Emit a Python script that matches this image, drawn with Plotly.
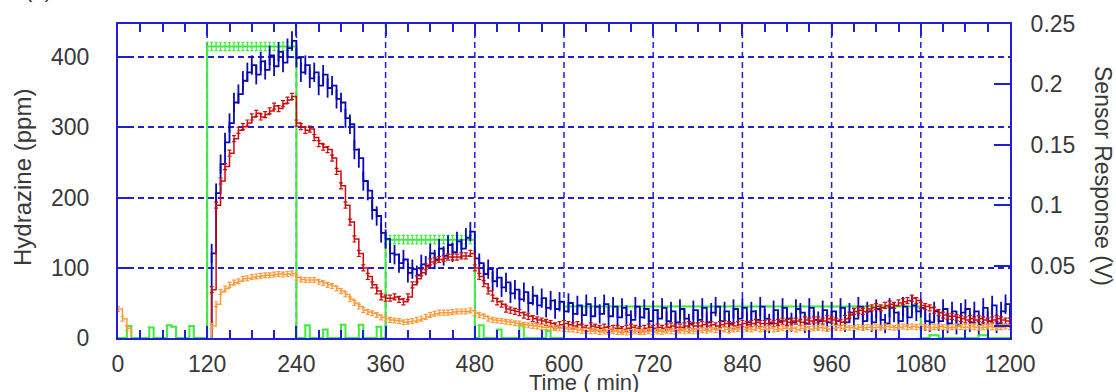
import plotly.graph_objects as go

# ---- data ----
# sampling times (min)
time_min = list(range(0, 1201, 6))

# hydrazine concentration (ppm, left axis)
hydrazine_ppm = (
    [0, 0, 17, 0, 0, 0, 0, 15, 0, 0] +
    [0, 18, 16, 0, 0, 0, 17, 0, 0, 0] +
    [415] * 20 +
    [0, 0, 18, 0, 0, 0, 12, 0, 0, 0] +
    [19, 0, 0, 0, 19, 0, 0, 0, 16, 0] +
    [140] * 20 +
    [0, 18, 0, 0, 0, 12, 0, 0, 0, 0] +
    [18, 0, 0, 0, 0, 0, 10, 0, 0, 0] +
    [45] * 80 +
    [0, 0, 4, 4, 0, 0, 0, 0, 0, 0] +
    [0, 0, 0, 4, 4, 0, 0, 0, 0, 0] +
    [0]
)
hydrazine_err = [0] * 20 + [6] * 20 + [0] * 20 + [6] * 20 + [0] * 121

# sensor responses (V, right axis)
sensor_blue = (
    [None] * 20 +
    [-0.02, 0.06, 0.11, 0.134, 0.152, 0.168, 0.185, 0.192, 0.203, 0.21] +
    [0.216, 0.208, 0.219, 0.212, 0.224, 0.215, 0.227, 0.218, 0.23, 0.236] +
    [0.222, 0.21, 0.216, 0.205, 0.21, 0.199, 0.208, 0.197, 0.199, 0.188] +
    [0.185, 0.172, 0.167, 0.146, 0.139, 0.12, 0.112, 0.096, 0.091, 0.077] +
    [0.072, 0.06, 0.059, 0.052, 0.055, 0.044, 0.047, 0.042, 0.051, 0.05] +
    [0.06, 0.055, 0.064, 0.058, 0.067, 0.061, 0.07, 0.064, 0.073, 0.078] +
    [0.056, 0.052, 0.043, 0.047, 0.037, 0.04, 0.032, 0.036, 0.027, 0.03] +
    [0.022, 0.028, 0.019, 0.025, 0.017, 0.023, 0.015, 0.021, 0.014, 0.02] +
    [0.012, 0.019, 0.01, 0.017, 0.009, 0.018, 0.008, 0.016, 0.01, 0.018] +
    [0.008, 0.016, 0.007, 0.015, 0.009, 0.005, 0.016, 0.007, 0.014, 0.004] +
    [0.013, 0.006, 0.015, 0.004, 0.012, 0.003, 0.014, 0.006, 0.002, 0.013] +
    [0.005, 0.015, 0.003, 0.011, 0.016, 0.004, 0.012, 0.002, 0.014, 0.006] +
    [0.015, 0.003, 0.012, 0.005, 0.016, 0.006, 0.002, 0.013, 0.004, 0.015] +
    [0.006, 0.003, 0.014, 0.011, 0.002, 0.015, 0.005, 0.004, 0.013, 0.003] +
    [0.012, 0.004, 0.015, 0.003, 0.011, 0.006, 0.016, 0.004, 0.012, 0.003] +
    [0.014, 0.005, 0.002, 0.015, 0.011, 0.004, 0.016, 0.007, 0.017, 0.012] +
    [0.015, 0.004, 0.003, 0.012, 0.004, 0.014, 0.002, 0.012, 0.001, 0.011] +
    [0.014, 0.003, 0.012, 0.001, 0.015, 0.004, 0.017, 0.002, 0.012, 0.018] +
    [0.006]
)

sensor_red = (
    [None] * 20 +
    [-0.02, 0.03, 0.1, 0.12, 0.132, 0.143, 0.155, 0.162, 0.165, 0.168] +
    [0.173, 0.176, 0.173, 0.175, 0.178, 0.182, 0.18, 0.184, 0.187, 0.19] +
    [0.168, 0.165, 0.162, 0.163, 0.156, 0.151, 0.148, 0.146, 0.139, 0.128] +
    [0.116, 0.1, 0.086, 0.072, 0.06, 0.048, 0.041, 0.034, 0.029, 0.024] +
    [0.023, 0.023, 0.024, 0.022, 0.02, 0.024, 0.034, 0.039, 0.044, 0.049] +
    [0.053, 0.054, 0.055, 0.056, 0.057, 0.057, 0.057, 0.058, 0.058, 0.06] +
    [0.048, 0.041, 0.035, 0.029, 0.023, 0.02, 0.018, 0.014, 0.013, 0.012] +
    [0.011, 0.009, 0.008, 0.006, 0.005, 0.004, 0.003, 0.002, 0.0, 0.001] +
    [0.002, 0.001, 0.0, 0.001, -0.001, -0.002, 0.0, -0.001, -0.002, -0.001] +
    [-0.003, -0.002, -0.002, -0.003, -0.002, -0.001, -0.002, -0.003, -0.002, -0.001] +
    [-0.002, -0.001, -0.002, -0.001, 0.0, -0.001, -0.001, 0.0, 0.001, 0.0] +
    [0.0, 0.001, 0.0, 0.001, 0.0, 0.001, 0.002, 0.001, 0.0, 0.001] +
    [0.002, 0.001, 0.002, 0.003, 0.002, 0.002, 0.003, 0.002, 0.003, 0.004] +
    [0.003, 0.004, 0.004, 0.003, 0.005, 0.004, 0.005, 0.005, 0.004, 0.006] +
    [0.005, 0.004, 0.003, 0.006, 0.009, 0.012, 0.013, 0.012, 0.014, 0.015] +
    [0.016, 0.015, 0.017, 0.018, 0.017, 0.019, 0.02, 0.021, 0.023, 0.021] +
    [0.017, 0.016, 0.015, 0.013, 0.011, 0.009, 0.008, 0.008, 0.007, 0.006] +
    [0.005, 0.006, 0.005, 0.006, 0.005, 0.004, 0.005, 0.006, 0.005, 0.004] +
    [0.004]
)

sensor_orange = (
    [0.014, 0.006, -0.002, -0.015, -0.015, -0.015, -0.015, -0.015, -0.015, -0.015] +
    [-0.015] * 10 +
    [-0.015, 0.0, 0.018, 0.028, 0.031, 0.034, 0.036, 0.037, 0.039, 0.0395] +
    [0.0405, 0.041, 0.0415, 0.042, 0.042, 0.0425, 0.043, 0.0425, 0.043, 0.0435] +
    [0.04, 0.0385, 0.038, 0.038, 0.038, 0.0365, 0.0355, 0.034, 0.033, 0.031] +
    [0.029, 0.026, 0.022, 0.019, 0.016, 0.013, 0.0115, 0.0105, 0.009, 0.007] +
    [0.006, 0.005, 0.0045, 0.004, 0.003, 0.0035, 0.004, 0.005, 0.006, 0.0075] +
    [0.009, 0.01, 0.011, 0.011, 0.011, 0.0115, 0.012, 0.012, 0.012, 0.0128] +
    [0.0105, 0.009, 0.008, 0.006, 0.005, 0.0045, 0.004, 0.0035, 0.003, 0.0022] +
    [0.002, 0.001, 0.0005, 0.0, -0.0005, -0.001, -0.001, -0.0015, -0.002, -0.002] +
    [-0.0025, -0.003, -0.003, -0.0035, -0.004, -0.004, -0.0045, -0.004, -0.005, -0.0045] +
    [-0.005, -0.0045, -0.005, -0.005, -0.0055, -0.005, -0.0045, -0.005, -0.005, -0.0045] +
    [-0.005, -0.0045, -0.005, -0.004, -0.0045, -0.005, -0.004, -0.0045, -0.004, -0.0045] +
    [-0.004, -0.0035, -0.004, -0.003, -0.0035, -0.004, -0.003, -0.0035, -0.003, -0.0025] +
    [-0.003, -0.0025, -0.003, -0.002, -0.003, -0.0025, -0.002, -0.003, -0.0025, -0.002] +
    [-0.0025, -0.002, -0.003, -0.002, -0.0015, -0.0025, -0.002, -0.0015, -0.002, -0.0025] +
    [-0.002, -0.0015, -0.002, -0.001, -0.0015, -0.002, -0.001, -0.0015, -0.001, -0.0015] +
    [-0.001, -0.0015, -0.0005, -0.001, -0.0015, -0.001, -0.0005, -0.001, -0.0005, -0.001] +
    [-0.0005, -0.001, -0.0015, -0.001, -0.0005, -0.001, -0.0015, -0.001, -0.0005, -0.001] +
    [-0.001, -0.0005, -0.001, -0.0015, -0.001, -0.0005, -0.001, -0.0015, -0.001, -0.0005] +
    [-0.001]
)

x_ticks = [0, 120, 240, 360, 480, 600, 720, 840, 960, 1080, 1200]
left_ticks = [0, 100, 200, 300, 400]
right_ticks = [0, 0.05, 0.1, 0.15, 0.2, 0.25]

# ---- style ----
FRAME = "#1f1fd6"
C_GREEN = "#3dec3d"
C_BLUE = "#0a0ab4"
C_RED = "#cc0a0a"
C_ORANGE = "#ff9a3a"
FONT = "Liberation Sans, Arial, sans-serif"
TXT = "#383838"
DASH = "6px,4px"

fig = go.Figure()

fig.add_trace(go.Scatter(
    x=time_min, y=hydrazine_ppm, yaxis="y", mode="lines",
    line=dict(color=C_GREEN, width=2, shape="hv"),
    error_y=dict(type="data", array=hydrazine_err, color=C_GREEN, thickness=1.2, width=1.5),
    showlegend=False, hoverinfo="skip"))

fig.add_trace(go.Scatter(
    x=time_min, y=sensor_blue, yaxis="y2", mode="lines",
    line=dict(color=C_BLUE, width=1.8, shape="hv"),
    error_y=dict(type="constant", value=0.008, color=C_BLUE, thickness=1.8, width=0),
    showlegend=False, hoverinfo="skip"))

fig.add_trace(go.Scatter(
    x=time_min, y=sensor_red, yaxis="y2", mode="lines",
    line=dict(color=C_RED, width=1.5, shape="hv"),
    error_y=dict(type="constant", value=0.0025, color=C_RED, thickness=1.2, width=2),
    showlegend=False, hoverinfo="skip"))

fig.add_trace(go.Scatter(
    x=time_min, y=sensor_orange, yaxis="y2", mode="lines",
    line=dict(color=C_ORANGE, width=1.5, shape="hv"),
    error_y=dict(type="constant", value=0.002, color=C_ORANGE, thickness=1.2, width=2),
    showlegend=False, hoverinfo="skip"))

# vertical dashed grid lines at the major time ticks, kept below all traces
for xv in x_ticks[1:-1]:
    fig.add_shape(type="line", xref="x", yref="paper", x0=xv, x1=xv, y0=0, y1=1,
                  line=dict(color=FRAME, width=1.5, dash=DASH), layer="below")

tickfont = dict(family=FONT, size=23, color=TXT)

fig.update_layout(
    width=1116, height=392,
    margin=dict(l=118, r=106, t=24, b=54, pad=0, autoexpand=False),
    paper_bgcolor="white", plot_bgcolor="white",
    xaxis=dict(
        range=[0, 1200], tickmode="array", tickvals=x_ticks,
        ticks="inside", ticklen=12, tickwidth=2, tickcolor=FRAME,
        showline=True, linecolor=FRAME, linewidth=2, mirror="ticks",
        showgrid=False,
        zeroline=False, tickfont=tickfont, ticklabelstandoff=4, automargin=False,
        minor=dict(dtick=30, tick0=0, ticks="inside", ticklen=8, tickwidth=2,
                   tickcolor=FRAME, showgrid=False),
    ),
    yaxis=dict(
        range=[0, 447], tickmode="array", tickvals=left_ticks,
        ticks="inside", ticklen=14, tickwidth=2, tickcolor=FRAME,
        showline=True, linecolor=FRAME, linewidth=2, mirror=False,
        showgrid=True, gridcolor=FRAME, gridwidth=1.5, griddash=DASH,
        zeroline=False, tickfont=tickfont, ticklabelstandoff=22, automargin=False,
    ),
    yaxis2=dict(
        range=[-0.01, 0.25], overlaying="y", side="right",
        tickmode="array", tickvals=right_ticks,
        ticktext=["0", "0.05", "0.1", "0.15", "0.2", "0.25"],
        ticks="inside", ticklen=16, tickwidth=2, tickcolor=FRAME,
        showline=True, linecolor=FRAME, linewidth=2,
        showgrid=False, zeroline=False, tickfont=tickfont, ticklabelstandoff=14,
        automargin=False,
    ),
    annotations=[
        dict(text="Time ( min)", xref="paper", yref="paper",
             x=(584 - 118) / 892, y=(338 - 368) / 314,
             xanchor="center", yanchor="top", showarrow=False,
             font=dict(family=FONT, size=22, color=TXT)),
        dict(text="Hydrazine (ppm)", xref="paper", yref="paper",
             x=(22 - 118) / 892, y=(338 - 178) / 314, textangle=-90,
             xanchor="center", yanchor="middle", showarrow=False,
             font=dict(family=FONT, size=24, color=TXT)),
        dict(text="Sensor Response (V)", xref="paper", yref="paper",
             x=(1103 - 118) / 892, y=(338 - 176) / 314, textangle=90,
             xanchor="center", yanchor="middle", showarrow=False,
             font=dict(family=FONT, size=23, color=TXT)),
        dict(text="(a)", xref="paper", yref="paper",
             x=(54 - 118) / 892, y=(338 - 4) / 314,
             xanchor="right", yanchor="bottom", showarrow=False,
             font=dict(family=FONT, size=22, color=TXT)),
    ],
)

fig.write_html("out.html")
